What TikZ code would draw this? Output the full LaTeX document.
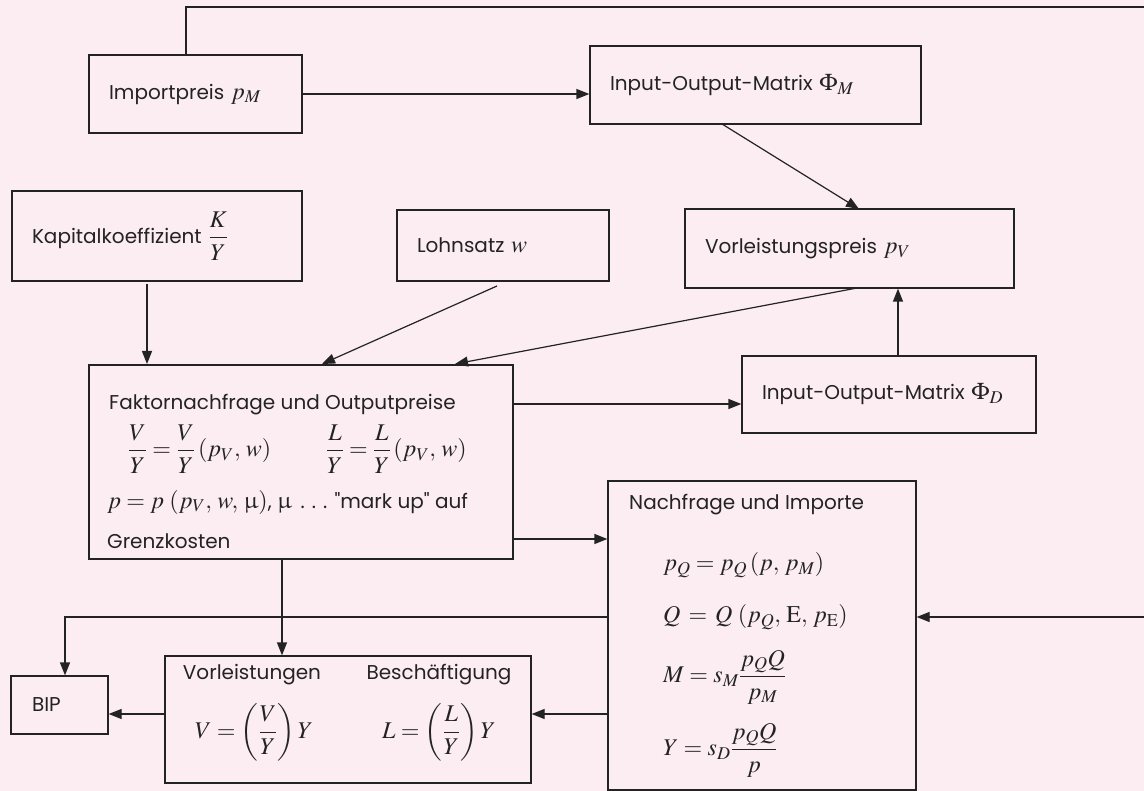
\documentclass[tikz,border=0pt]{standalone}
\usepackage{amsmath}
\usepackage{mathptmx}
\usepackage{upgreek}
\usepackage[no-math]{fontspec}
\setmainfont{Poppins}[Ligatures=TeXOff]
\DeclareMathSizes{20}{24}{18}{14}
\usetikzlibrary{arrows.meta,calc}
\definecolor{bg}{RGB}{252,237,243}
\definecolor{ln}{RGB}{35,35,35}
\tikzset{
  box/.style={draw=ln, line width=1.2pt, rectangle, inner sep=0pt},
  tbox/.style={box, inner xsep=20pt, align=left},
  lbl/.style={anchor=west, inner sep=0pt, text=ln},
  clbl/.style={inner sep=0pt, text=ln},
  con/.style={draw=ln, line width=1.2pt},
  arr/.style={con, -{Triangle[length=13pt,width=10pt]}},
  every node/.style={font=\fontsize{20}{24}\selectfont, text=ln},
}
\begin{document}
\begin{tikzpicture}[x=1pt,y=-1pt]
\fill[bg] (0,0) rectangle (1144,791);
\useasboundingbox (0,0) rectangle (1144,791);

% text boxes
\node[tbox, minimum width=213pt, minimum height=78pt, text width=173pt] (imp) at (195.5,94) {Importpreis $p_M$};
\node[tbox, minimum width=331pt, minimum height=78pt, text width=291pt] (iom) at (755.5,85) {Input-Output-Matrix $\Phi_M$};
\node[tbox, minimum width=290pt, minimum height=90pt, text width=250pt] (kap) at (157,236) {Kapitalkoeffizient $\dfrac{K}{Y}$};
\node[tbox, minimum width=212pt, minimum height=71pt, text width=172pt] (lohn) at (503,245.5) {Lohnsatz $w$};
\node[tbox, minimum width=329pt, minimum height=79pt, text width=289pt] (vpr) at (849.5,248.5) {Vorleistungspreis $p_V$};
\node[tbox, minimum width=294pt, minimum height=77pt, text width=254pt] (iod) at (889,394.5) {Input-Output-Matrix $\Phi_D$};
\node[tbox, minimum width=97pt, minimum height=58pt, text width=77pt, inner xsep=10pt] (bip) at (59.5,705) {\hspace*{11pt}BIP};

% large boxes
\node[box, minimum width=424pt, minimum height=194pt] (fak) at (301,462) {};
\node[box, minimum width=308pt, minimum height=309pt] (nach) at (762,635.5) {};
\node[box, minimum width=366pt, minimum height=127pt] (vl) at (348,719.5) {};

% Faktornachfrage contents
\node[lbl] (fak1) at (109,405) {Faktornachfrage und Outputpreise};
\node[lbl] (fak2) at (128,449) {$\dfrac{V}{Y}=\dfrac{V}{Y}\,(p_V,\,w)$};
\node[lbl] (fak3) at (326,449) {$\dfrac{L}{Y}=\dfrac{L}{Y}\,(p_V,\,w)$};
\node[lbl] (fak4) at (107,502) {$p = p\ (p_V,\,w,\,\upmu)$, $\upmu$\, . . . "mark up" auf};
\node[lbl] (fak5) at (107,541) {Grenzkosten};

% Nachfrage contents
\node[lbl] (n1) at (629,505) {Nachfrage und Importe};
\node[lbl] (n2) at (663,565) {$p_Q = p_Q\,(p,\,p_M)$};
\node[lbl] (n3) at (663,617) {$Q\,=\,Q\ (p_Q,\,\mathrm{E},\,p_{\mathrm{E}})$};
\node[lbl] (n4) at (663,677) {$M = s_M\dfrac{p_Q Q}{p_M}$};
\node[lbl] (n5) at (663,750) {$Y = s_D\dfrac{p_Q Q}{p}$};

% Vorleistungen contents
\node[clbl] (v1) at (252,675) {Vorleistungen};
\node[clbl] (v2) at (439,675) {Besch\"aftigung};
\node[clbl] (v3) at (254,732) {$V = \left(\dfrac{V}{Y}\right) Y$};
\node[clbl] (v4) at (439,732) {$L = \left(\dfrac{L}{Y}\right) Y$};

% helper coordinates
\coordinate (iomS) at (722,124);
\coordinate (vprN) at (859,209);
\coordinate (iodN) at (898,356);
\coordinate (vprS) at (857,288);
\coordinate (fakN1) at (455,364);
\coordinate (lohnS) at (497,286);
\coordinate (fakN2) at (322,364);
\coordinate (kapS) at (147,284);
\coordinate (fakN3) at (147,364);
\coordinate (impN) at (186,55);
\coordinate (tl) at (186,7);
\coordinate (tr) at (1150,7);
\coordinate (br) at (1150,617);

% connectors
\draw[arr] (imp.east) -- (imp.east -| iom.west);
\draw[arr] (iomS) -- (vprN);
\draw[arr] (iodN) -- (iodN |- vpr.south);
\draw[arr] (vprS) -- (fakN1);
\draw[arr] (lohnS) -- (fakN2);
\draw[arr] (kapS) -- (fakN3);
\draw[arr] (fak.east |- 0,404) -- (iod.west |- 0,404);
\draw[arr] (fak.east |- 0,539) -- (nach.west |- 0,539);
\draw[arr] (fak.south -| 282,0) -- (vl.north -| 282,0);
\draw[arr] (nach.west |- 0,617) -- (65,617) -- (bip.north -| 65,0);
\draw[arr] (nach.west |- 0,714) -- (vl.east |- 0,714);
\draw[arr] (vl.west |- 0,714) -- (bip.east |- 0,714);
\draw[arr] (impN) -- (tl) -- (tr) -- (br) -- (nach.east |- br);
\end{tikzpicture}
\end{document}
